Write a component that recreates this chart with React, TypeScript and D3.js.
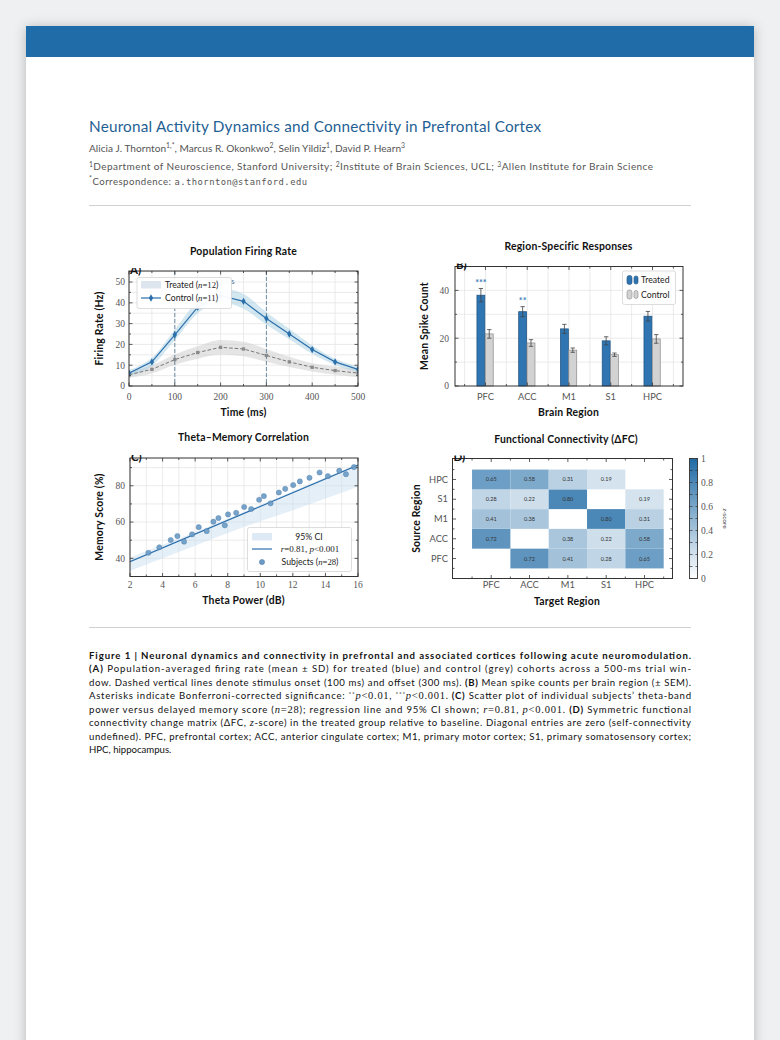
import React from 'react';
import * as d3 from 'd3';

// ---------------- DATA ----------------
const timeMs = [0, 50, 100, 150, 200, 250, 300, 350, 400, 450, 500];
const treatedRate = [6.2, 11.6, 24.6, 37.9, 43.5, 40.7, 32.5, 25.0, 17.5, 11.6, 8.0];
const treatedSD = [1.5, 2.0, 2.5, 3.0, 3.5, 3.5, 3.0, 2.5, 2.0, 1.5, 1.5];
const controlRate = [5.4, 8.0, 12.7, 16.1, 18.6, 17.8, 14.7, 11.6, 9.0, 7.4, 6.2];
const controlSD = [1.5, 2.0, 2.5, 3.0, 3.5, 3.5, 3.0, 2.5, 2.0, 2.0, 2.0];
const stimulusMarks = [100, 300];
const timeTicks = [0, 100, 200, 300, 400, 500];
const rateTicks = [0, 10, 20, 30, 40, 50];

const regions = ['PFC', 'ACC', 'M1', 'S1', 'HPC'];
const treatedSpikes = [38.0, 31.1, 23.9, 18.9, 29.2];
const treatedSEM = [2.8, 2.1, 1.9, 1.7, 2.0];
const controlSpikes = [21.8, 18.0, 15.0, 13.1, 19.7];
const controlSEM = [1.8, 1.4, 0.9, 0.7, 1.8];
const significance = ['***', '**', '', '', ''];
const spikeTicks = [0, 20, 40];

const thetaPower = [3.13, 3.8, 4.5, 4.91, 5.32, 5.81, 6.22, 6.71, 7.12, 7.43, 7.82, 8.02, 8.52, 9.01, 9.44, 9.93, 10.22, 10.63, 11.14, 11.53, 12.02, 12.43, 13.02, 13.64, 14.15, 14.85, 15.26, 15.75];
const memoryScore = [43.1, 46.1, 50.1, 52.3, 49.2, 53.2, 57.2, 55.0, 60.2, 62.2, 58.2, 64.2, 65.1, 68.3, 67.2, 72.3, 74.3, 70.3, 76.3, 78.3, 80.4, 82.4, 84.4, 87.3, 85.3, 88.3, 86.4, 90.3];
const fitSlope = 3.8;
const fitIntercept = 30.6;
const ciX = [2, 4, 6, 8, 10, 12, 14, 16];
const ciLow = [33.0, 40.0, 47.0, 54.0, 60.5, 66.5, 73.0, 79.5];
const ciHigh = [40.5, 47.5, 54.5, 62.0, 69.5, 77.0, 84.5, 92.0];
const thetaTicks = [2, 4, 6, 8, 10, 12, 14, 16];
const memoryTicks = [40, 60, 80];

const fcRegions = ['PFC', 'ACC', 'M1', 'S1', 'HPC'];
const fcPFC = [0, 0.72, 0.41, 0.28, 0.65];
const fcACC = [0.72, 0, 0.38, 0.22, 0.58];
const fcM1 = [0.41, 0.38, 0, 0.80, 0.31];
const fcS1 = [0.28, 0.22, 0.80, 0, 0.19];
const fcHPC = [0.65, 0.58, 0.31, 0.19, 0];
const fcMatrix = [fcPFC, fcACC, fcM1, fcS1, fcHPC];
const cbarTicks = [0, 0.2, 0.4, 0.6, 0.8, 1];

// ---------------- STYLE ----------------
const SANS = "Lato, 'Open Sans', 'DejaVu Sans', sans-serif";
const SERIF = "'Liberation Serif', 'DejaVu Serif', serif";
const MONO = "'DejaVu Sans Mono', 'Liberation Mono', monospace";
const INK = '#333';
const GRID = '#e2e2e2';
const TICKTXT = '#555';
const BLUE = '#2b6fab';
const cmap = d3.interpolateRgb('#ffffff', '#1f6aa5');

type Seg = { t: string; s?: 'b' | 'i' | 'm' | 'sup' };
const captionLines: Seg[][] = [
  [{ t: 'Figure 1 | Neuronal dynamics and connectivity in prefrontal and associated cortices following acute neuromodulation.', s: 'b' }],
  [{ t: '(A)', s: 'b' }, { t: ' Population-averaged firing rate (mean ± SD) for treated (blue) and control (grey) cohorts across a 500-ms trial win-' }],
  [{ t: 'dow. Dashed vertical lines denote stimulus onset (100 ms) and offset (300 ms). ' }, { t: '(B)', s: 'b' }, { t: ' Mean spike counts per brain region (± SEM).' }],
  [{ t: 'Asterisks indicate Bonferroni-corrected significance: ' }, { t: '**', s: 'sup' }, { t: 'p', s: 'i' }, { t: '<0.01', s: 'm' }, { t: ', ' }, { t: '***', s: 'sup' }, { t: 'p', s: 'i' }, { t: '<0.001', s: 'm' }, { t: '. ' }, { t: '(C)', s: 'b' }, { t: ' Scatter plot of individual subjects\u2019 theta-band' }],
  [{ t: 'power versus delayed memory score (' }, { t: 'n', s: 'i' }, { t: '=28', s: 'm' }, { t: '); regression line and 95% CI shown; ' }, { t: 'r', s: 'i' }, { t: '=0.81', s: 'm' }, { t: ', ' }, { t: 'p', s: 'i' }, { t: '<0.001', s: 'm' }, { t: '. ' }, { t: '(D)', s: 'b' }, { t: ' Symmetric functional' }],
  [{ t: 'connectivity change matrix (ΔFC, ' }, { t: 'z', s: 'i' }, { t: '-score) in the treated group relative to baseline. Diagonal entries are zero (self-connectivity' }],
  [{ t: 'undefined). PFC, prefrontal cortex; ACC, anterior cingulate cortex; M1, primary motor cortex; S1, primary somatosensory cortex;' }],
  [{ t: 'HPC, hippocampus.' }],
];

function segStyle(s?: string): any {
  if (s === 'b') return { fontWeight: 700 };
  if (s === 'i') return { fontStyle: 'italic', fontFamily: SERIF, fontSize: 10.5 };
  if (s === 'm') return { fontFamily: SERIF, fontSize: 10.5 };
  return {};
}

// ---------------- HELPERS ----------------
type Box = { x0: number; x1: number; y0: number; y1: number };

function Ticks({ b, sx, sy, xMajor = [], xMinor = [], yMajor = [], yMinor = [] }: any) {
  const out: any[] = [];
  const L = 3.5, l = 2;
  const add = (vals: number[], len: number, axis: 'x' | 'y') =>
    vals.forEach((v, i) => {
      if (axis === 'x') {
        const p = sx(v);
        out.push(<line key={`x${len}${i}a`} x1={p} x2={p} y1={b.y1} y2={b.y1 - len} />);
        out.push(<line key={`x${len}${i}b`} x1={p} x2={p} y1={b.y0} y2={b.y0 + len} />);
      } else {
        const p = sy(v);
        out.push(<line key={`y${len}${i}a`} y1={p} y2={p} x1={b.x0} x2={b.x0 + len} />);
        out.push(<line key={`y${len}${i}b`} y1={p} y2={p} x1={b.x1} x2={b.x1 - len} />);
      }
    });
  add(xMajor, L, 'x');
  add(xMinor, l, 'x');
  add(yMajor, L, 'y');
  add(yMinor, l, 'y');
  return <g stroke={INK} strokeWidth={0.8}>{out}</g>;
}

function Grid({ b, sx, sy, xs = [], ys = [] }: any) {
  return (
    <g stroke={GRID} strokeWidth={0.7}>
      {xs.map((v: number, i: number) => <line key={'gx' + i} x1={sx(v)} x2={sx(v)} y1={b.y0} y2={b.y1} />)}
      {ys.map((v: number, i: number) => <line key={'gy' + i} y1={sy(v)} y2={sy(v)} x1={b.x0} x2={b.x1} />)}
    </g>
  );
}

function Frame({ b }: { b: Box }) {
  return <rect x={b.x0} y={b.y0} width={b.x1 - b.x0} height={b.y1 - b.y0} fill="none" stroke={INK} strokeWidth={1} />;
}

function PanelLabel({ b, t, id }: { b: Box; t: string; id: string }) {
  return (
    <g>
      <clipPath id={id}><rect x={b.x0} y={b.y0 - 3} width={60} height={20} /></clipPath>
      <text x={b.x0 + 1} y={b.y0 + 2.5} fontFamily={SANS} fontWeight={700} fontSize={11.5} fill="#111" clipPath={`url(#${id})`}>{t}</text>
    </g>
  );
}

const LABEL_FS = 10.4;
function Title({ x, y, t }: { x: number; y: number; t: string }) {
  return <text x={x} y={y} textAnchor="middle" fontFamily={SANS} fontWeight={700} fontSize={LABEL_FS} letterSpacing={0.2} fill="#111">{t}</text>;
}
function XLabel({ x, y, t }: { x: number; y: number; t: string }) {
  return <text x={x} y={y} textAnchor="middle" fontFamily={SANS} fontWeight={700} fontSize={LABEL_FS} letterSpacing={0.2} fill="#111">{t}</text>;
}
function YLabel({ x, y, t }: { x: number; y: number; t: string }) {
  return <text transform={`translate(${x},${y}) rotate(-90)`} textAnchor="middle" fontFamily={SANS} fontWeight={700} fontSize={LABEL_FS} letterSpacing={0.2} fill="#111">{t}</text>;
}

const range = (a: number, bEnd: number, s: number) => d3.range(a, bEnd + 1e-9, s);
const LEG_FS = 8.7;

// ---------------- PANEL A ----------------
function PanelA() {
  const b: Box = { x0: 129, x1: 358, y0: 271, y1: 386 };
  const sx = d3.scaleLinear().domain([0, 500]).range([b.x0, b.x1]);
  const sy = d3.scaleLinear().domain([0, 55.3]).range([b.y1, b.y0]);
  const idx = timeMs.map((_, i) => i);
  const band = (m: number[], s: number[]) =>
    d3.area<number>().x(i => sx(timeMs[i])).y0(i => sy(m[i] - s[i])).y1(i => sy(m[i] + s[i])).curve(d3.curveMonotoneX)(idx) as string;
  const line = (m: number[]) => d3.line<number>().x(i => sx(timeMs[i])).y(i => sy(m[i]))(idx) as string;
  const diamond = d3.symbol(d3.symbolDiamond, 16)() as string;
  const square = d3.symbol(d3.symbolSquare, 11)() as string;
  return (
    <g>
      <Title x={243.5} y={254.5} t="Population Firing Rate" />
      <clipPath id="clipA"><rect x={b.x0} y={b.y0} width={b.x1 - b.x0} height={b.y1 - b.y0} /></clipPath>
      <Grid b={b} sx={sx} sy={sy} xs={range(0, 500, 50)} ys={range(0, 55, 5)} />
      <g clipPath="url(#clipA)">
        <path d={band(controlRate, controlSD)} fill="#cfcfcf" opacity={0.55} />
        <path d={band(treatedRate, treatedSD)} fill="#9ecae1" opacity={0.45} />
        {stimulusMarks.map(v => (
          <line key={v} x1={sx(v)} x2={sx(v)} y1={b.y0} y2={b.y1} stroke="#4d7391" strokeWidth={0.8} strokeDasharray="4,2" />
        ))}
        <text x={sx(200)} y={284} textAnchor="middle" fontFamily={SANS} fontSize={7.5} fill="#4d7391">Stimulus</text>
        <path d={line(controlRate)} fill="none" stroke="#777" strokeWidth={1} strokeDasharray="3.5,2" />
        {idx.map(i => <path key={'c' + i} d={square} transform={`translate(${sx(timeMs[i])},${sy(controlRate[i])})`} fill="#8a8a8a" />)}
        <path d={line(treatedRate)} fill="none" stroke={BLUE} strokeWidth={1.2} />
        {idx.map(i => <path key={'t' + i} d={diamond} transform={`translate(${sx(timeMs[i])},${sy(treatedRate[i])})`} fill={BLUE} />)}
      </g>
      <Ticks b={b} sx={sx} sy={sy} xMajor={timeTicks} xMinor={range(50, 450, 100)} yMajor={rateTicks} yMinor={range(5, 55, 10)} />
      <Frame b={b} />
      <PanelLabel b={b} t="A)" id="plA" />
      {timeTicks.map(v => <text key={v} x={sx(v)} y={400} textAnchor="middle" fontFamily={SERIF} fontSize={9.5} fill={TICKTXT}>{v}</text>)}
      {rateTicks.map(v => <text key={v} x={125} y={sy(v) + 3.3} textAnchor="end" fontFamily={SERIF} fontSize={9.5} fill={TICKTXT}>{v}</text>)}
      <XLabel x={243.5} y={415.5} t="Time (ms)" />
      <YLabel x={103} y={328.5} t="Firing Rate (Hz)" />
      {/* legend */}
      <g>
        <rect x={137} y={277.5} width={94.5} height={31} rx={2} fill="#fff" fillOpacity={0.95} stroke="#cfcfcf" strokeWidth={0.7} />
        <rect x={141} y={281} width={20} height={7.5} rx={1} fill="#dde6ef" />
        <text x={165} y={287.5} fontFamily={SANS} fontSize={LEG_FS} fill="#222">Treated (<tspan fontFamily={SERIF} fontStyle="italic">n</tspan><tspan fontFamily={SERIF}>=12</tspan>)</text>
        <line x1={141} x2={161} y1={298} y2={298} stroke={BLUE} strokeWidth={1.2} />
        <path d={diamond} transform="translate(151,298)" fill={BLUE} />
        <text x={165} y={301} fontFamily={SANS} fontSize={LEG_FS} fill="#222">Control (<tspan fontFamily={SERIF} fontStyle="italic">n</tspan><tspan fontFamily={SERIF}>=11</tspan>)</text>
      </g>
    </g>
  );
}

// ---------------- PANEL B ----------------
function PanelB() {
  const b: Box = { x0: 455, x1: 683, y0: 266.5, y1: 386 };
  const sx = d3.scaleLinear().domain([-0.73, 4.73]).range([b.x0, b.x1]);
  const sy = d3.scaleLinear().domain([0, 50]).range([b.y1, b.y0]);
  const w = 0.19;
  const bars = (vals: number[], sem: number[], off: number, fill: string, stroke: string, key: string) =>
    vals.map((v, i) => {
      const cx = i + off;
      const px = sx(cx);
      return (
        <g key={key + i}>
          <rect x={sx(cx - w / 2)} y={sy(v)} width={sx(cx + w / 2) - sx(cx - w / 2)} height={sy(0) - sy(v)} fill={fill} stroke={stroke} strokeWidth={0.7} />
          <line x1={px} x2={px} y1={sy(v - sem[i])} y2={sy(v + sem[i])} stroke="#444" strokeWidth={0.8} />
          <line x1={px - 2.2} x2={px + 2.2} y1={sy(v + sem[i])} y2={sy(v + sem[i])} stroke="#444" strokeWidth={0.8} />
          <line x1={px - 2.2} x2={px + 2.2} y1={sy(v - sem[i])} y2={sy(v - sem[i])} stroke="#444" strokeWidth={0.8} />
        </g>
      );
    });
  const idx = regions.map((_, i) => i);
  return (
    <g>
      <Title x={568.5} y={249.5} t="Region-Specific Responses" />
      <Grid b={b} sx={sx} sy={sy} xs={[...range(-0.5, 4.5, 1), ...idx]} ys={range(10, 50, 10)} />
      {bars(treatedSpikes, treatedSEM, -0.11, '#2e75b2', '#1d4f7c', 't')}
      {bars(controlSpikes, controlSEM, 0.09, '#d2d2d2', '#8a8a8a', 'c')}
      {significance.map((s, i) => s ? (
        <text key={'s' + i} x={sx(i - 0.11)} y={sy(treatedSpikes[i] + treatedSEM[i] + 2.6) + 4} textAnchor="middle" fontFamily={SANS} fontWeight={700} fontSize={9} fill="#3a7cb8">{s}</text>
      ) : null)}
      <Ticks b={b} sx={sx} sy={sy} xMajor={idx} xMinor={range(-0.5, 4.5, 1)} yMajor={spikeTicks} yMinor={[10, 30, 50]} />
      <Frame b={b} />
      <PanelLabel b={b} t="B)" id="plB" />
      {regions.map((r, i) => <text key={r} x={sx(i)} y={400} textAnchor="middle" fontFamily={SANS} fontSize={9.3} fill={TICKTXT}>{r}</text>)}
      {spikeTicks.map(v => <text key={v} x={449} y={sy(v) + 3.3} textAnchor="end" fontFamily={SERIF} fontSize={9.5} fill={TICKTXT}>{v}</text>)}
      <XLabel x={568.5} y={415.5} t="Brain Region" />
      <YLabel x={428} y={326} t="Mean Spike Count" />
      <g>
        <rect x={622.5} y={271} width={53} height={33.5} rx={2} fill="#fff" fillOpacity={0.95} stroke="#cfcfcf" strokeWidth={0.7} />
        <rect x={627} y={275.5} width={5} height={9} rx={2.2} fill="#2e75b2" stroke="#1d4f7c" strokeWidth={0.6} />
        <rect x={634} y={276} width={4} height={8} rx={2} fill="#2e75b2" stroke="#1d4f7c" strokeWidth={0.6} />
        <text x={641} y={283} fontFamily={SANS} fontSize={LEG_FS} fill="#222">Treated</text>
        <rect x={627} y={290} width={5} height={9} rx={2.2} fill="#d2d2d2" stroke="#8a8a8a" strokeWidth={0.6} />
        <rect x={634} y={290.5} width={4} height={8} rx={2} fill="#d2d2d2" stroke="#8a8a8a" strokeWidth={0.6} />
        <text x={641} y={297.5} fontFamily={SANS} fontSize={LEG_FS} fill="#222">Control</text>
      </g>
    </g>
  );
}

// ---------------- PANEL C ----------------
function PanelC() {
  const b: Box = { x0: 130, x1: 358, y0: 458, y1: 576.5 };
  const sx = d3.scaleLinear().domain([2, 16]).range([b.x0, b.x1]);
  const sy = d3.scaleLinear().domain([30, 95.3]).range([b.y1, b.y0]);
  const ciIdx = ciX.map((_, i) => i);
  const ci = d3.area<number>().x(i => sx(ciX[i])).y0(i => sy(ciLow[i])).y1(i => sy(ciHigh[i])).curve(d3.curveMonotoneX)(ciIdx) as string;
  const fit = d3.line<number>().x(v => sx(v)).y(v => sy(fitIntercept + fitSlope * v))([2, 16]) as string;
  return (
    <g>
      <Title x={243.5} y={440.5} t="Theta–Memory Correlation" />
      <clipPath id="clipC"><rect x={b.x0} y={b.y0} width={b.x1 - b.x0} height={b.y1 - b.y0} /></clipPath>
      <Grid b={b} sx={sx} sy={sy} xs={range(2, 16, 1)} ys={range(30, 90, 10)} />
      <g clipPath="url(#clipC)">
        <path d={ci} fill="#c6dbef" opacity={0.45} />
        <path d={fit} stroke={BLUE} strokeWidth={1.2} fill="none" />
        {thetaPower.map((v, i) => (
          <circle key={i} cx={sx(v)} cy={sy(memoryScore[i])} r={2.6} fill="#6a9bc6" stroke="#4a7aa6" strokeWidth={0.5} opacity={0.9} />
        ))}
      </g>
      <Ticks b={b} sx={sx} sy={sy} xMajor={thetaTicks} xMinor={range(3, 15, 2)} yMajor={memoryTicks} yMinor={[30, 50, 70, 90]} />
      <Frame b={b} />
      <PanelLabel b={b} t="C)" id="plC" />
      {thetaTicks.map(v => <text key={v} x={sx(v)} y={587.5} textAnchor="middle" fontFamily={SERIF} fontSize={9.5} fill={TICKTXT}>{v}</text>)}
      {memoryTicks.map(v => <text key={v} x={125} y={sy(v) + 3.3} textAnchor="end" fontFamily={SERIF} fontSize={9.5} fill={TICKTXT}>{v}</text>)}
      <XLabel x={243.5} y={603.5} t="Theta Power (dB)" />
      <YLabel x={103} y={517} t="Memory Score (%)" />
      <g>
        <rect x={247.5} y={527.5} width={104} height={44} rx={2} fill="#fff" fillOpacity={0.95} stroke="#cfcfcf" strokeWidth={0.7} />
        <rect x={252} y={533} width={20} height={7.5} rx={1} fill="#dde9f4" />
        <text x={309} y={539.5} textAnchor="middle" fontFamily={SANS} fontSize={LEG_FS} fill="#222">95% CI</text>
        <line x1={252} x2={272} y1={549} y2={549} stroke={BLUE} strokeWidth={1.2} />
        <text x={310} y={552} textAnchor="middle" fontFamily={SERIF} fontSize={9} fill="#222"><tspan fontStyle="italic">r</tspan>=0.81, <tspan fontStyle="italic">p</tspan>&lt;0.001</text>
        <circle cx={262} cy={562} r={2.6} fill="#6a9bc6" stroke="#4a7aa6" strokeWidth={0.5} />
        <text x={310} y={564.5} textAnchor="middle" fontFamily={SANS} fontSize={LEG_FS} fill="#222">Subjects (<tspan fontFamily={SERIF} fontStyle="italic">n</tspan><tspan fontFamily={SERIF}>=28</tspan>)</text>
      </g>
    </g>
  );
}

// ---------------- PANEL D ----------------
function PanelD() {
  const b: Box = { x0: 452.5, x1: 672.5, y0: 458.5, y1: 578.5 };
  const sx = d3.scaleLinear().domain([-1.01, 4.73]).range([b.x0, b.x1]);
  const sy = d3.scaleLinear().domain([-1.01, 5.06]).range([b.y1, b.y0]);
  const cb = { x0: 689.5, x1: 697.5, y0: 458.5, y1: 578.5 };
  const cy = d3.scaleLinear().domain([0, 1]).range([cb.y1, cb.y0]);
  const idx = fcRegions.map((_, i) => i);
  return (
    <g>
      <Title x={566} y={442.5} t="Functional Connectivity (ΔFC)" />
      {fcMatrix.map((row, r) => row.map((v, c) => v > 0 ? (
        <g key={`${r}-${c}`}>
          <rect x={sx(c - 0.5)} y={sy(r + 0.5)} width={sx(c + 0.5) - sx(c - 0.5)} height={sy(r - 0.5) - sy(r + 0.5)} fill={cmap(v)} />
          <text x={sx(c)} y={sy(r) + 2} textAnchor="middle" fontFamily={SANS} fontSize={5.5} fill="#333">{v.toFixed(2)}</text>
        </g>
      ) : null))}
      <Ticks b={b} sx={sx} sy={sy} xMajor={idx} xMinor={range(-0.5, 4.5, 1)} yMajor={idx} yMinor={range(-0.5, 4.5, 1)} />
      <Frame b={b} />
      <PanelLabel b={b} t="D)" id="plD" />
      {fcRegions.map((r, i) => <text key={'x' + r} x={sx(i)} y={588} textAnchor="middle" fontFamily={SANS} fontSize={9.3} fill={TICKTXT}>{r}</text>)}
      {fcRegions.map((r, i) => <text key={'y' + r} x={448} y={sy(i) + 3.2} textAnchor="end" fontFamily={SANS} fontSize={9.3} fill={TICKTXT}>{r}</text>)}
      <XLabel x={567} y={604.5} t="Target Region" />
      <YLabel x={420} y={518.5} t="Source Region" />
      {/* colorbar */}
      <defs>
        <linearGradient id="cbgrad" x1="0" y1="1" x2="0" y2="0">
          {d3.range(0, 1.0001, 0.1).map(t => <stop key={t} offset={t} stopColor={cmap(t)} />)}
        </linearGradient>
      </defs>
      <rect x={cb.x0} y={cb.y0} width={cb.x1 - cb.x0} height={cb.y1 - cb.y0} fill="url(#cbgrad)" />
      <g stroke={INK} strokeWidth={0.7}>
        {d3.range(0, 1.0001, 0.1).map(t => (
          <g key={t}>
            <line x1={cb.x0} x2={cb.x0 + 3} y1={cy(t)} y2={cy(t)} />
            <line x1={cb.x1} x2={cb.x1 - 2} y1={cy(t)} y2={cy(t)} />
          </g>
        ))}
      </g>
      <rect x={cb.x0} y={cb.y0} width={cb.x1 - cb.x0} height={cb.y1 - cb.y0} fill="none" stroke={INK} strokeWidth={0.9} />
      {cbarTicks.map(t => <text key={t} x={701} y={cy(t) + 3.3} fontFamily={SERIF} fontSize={9.5} fill={TICKTXT}>{t === 0 || t === 1 ? String(t) : t.toFixed(1)}</text>)}
      <text transform={`translate(723,${(cb.y0 + cb.y1) / 2}) rotate(90)`} textAnchor="middle" fontFamily={SANS} fontSize={6.5} fill="#333"><tspan fontFamily={SERIF} fontStyle="italic">z</tspan>-score</text>
    </g>
  );
}

// ---------------- PAGE ----------------
export default function App() {
  const capY0 = 658.5;
  const capDY = 13.55;
  return (
    <div style={{ position: 'absolute', left: 0, top: 0 }}>
      <svg width={780} height={1040} style={{ display: 'block' }}>
        <defs>
          <filter id="shadow" x="-10%" y="-10%" width="120%" height="120%">
            <feDropShadow dx={0} dy={1} stdDeviation={6} floodColor="#000" floodOpacity={0.25} />
          </filter>
        </defs>
        <rect x={0} y={0} width={780} height={1040} fill="#eff0f2" />
        <rect x={26} y={26} width={728} height={1040} fill="#fff" filter="url(#shadow)" />
        <rect x={26} y={26} width={728} height={31} fill="#1f6ca8" />

        <text x={89} y={132} fontFamily={SANS} fontSize={15.3} fill="#1f5f94" textLength={452} lengthAdjust="spacing">Neuronal Activity Dynamics and Connectivity in Prefrontal Cortex</text>
        <text x={89} y={152} fontFamily={SANS} fontSize={10.1} fill="#555" textLength={316} lengthAdjust="spacing">
          Alicia J. Thornton<tspan fontSize={6.8} dy={-4}>1,*</tspan><tspan dy={4}>, Marcus R. Okonkwo</tspan><tspan fontSize={6.8} dy={-4}>2</tspan><tspan dy={4}>, Selin Yildiz</tspan><tspan fontSize={6.8} dy={-4}>1</tspan><tspan dy={4}>, David P. Hearn</tspan><tspan fontSize={6.8} dy={-4}>3</tspan>
        </text>
        <text x={89} y={170} fontFamily={SANS} fontSize={10} fill="#555" textLength={564} lengthAdjust="spacing">
          <tspan fontSize={6.8} dy={-3.5}>1</tspan><tspan dy={3.5}>Department of Neuroscience, Stanford University; </tspan><tspan fontSize={6.8} dy={-3.5}>2</tspan><tspan dy={3.5}>Institute of Brain Sciences, UCL; </tspan><tspan fontSize={6.8} dy={-3.5}>3</tspan><tspan dy={3.5}>Allen Institute for Brain Science</tspan>
        </text>
        <text x={89} y={184.5} fontFamily={SANS} fontSize={9.6} fill="#555" textLength={218} lengthAdjust="spacing">
          <tspan fontSize={6.8} dy={-3.5}>*</tspan><tspan dy={3.5}>Correspondence: </tspan><tspan fontFamily={MONO} fontSize={8.8}>a.thornton@stanford.edu</tspan>
        </text>
        <line x1={89} x2={691} y1={205.5} y2={205.5} stroke="#d0d0d0" strokeWidth={1} />

        <PanelA />
        <PanelB />
        <PanelC />
        <PanelD />

        <line x1={89} x2={691} y1={627.5} y2={627.5} stroke="#d0d0d0" strokeWidth={1} />

        {captionLines.map((line, li) => {
          const last = li === captionLines.length - 1;
          return (
            <text key={li} x={89} y={capY0 + li * capDY} fontFamily={SANS} fontSize={9.6} fill="#111"
              {...(last ? {} : { textLength: 602, lengthAdjust: 'spacing' })}>
              {line.map((sg, si) => sg.s === 'sup'
                ? <tspan key={si} fontSize={6.5} dy={-3.5}>{sg.t}</tspan>
                : <tspan key={si} style={segStyle(sg.s)} dy={si > 0 && line[si - 1].s === 'sup' ? 3.5 : 0}>{sg.t}</tspan>)}
            </text>
          );
        })}
      </svg>
    </div>
  );
}
